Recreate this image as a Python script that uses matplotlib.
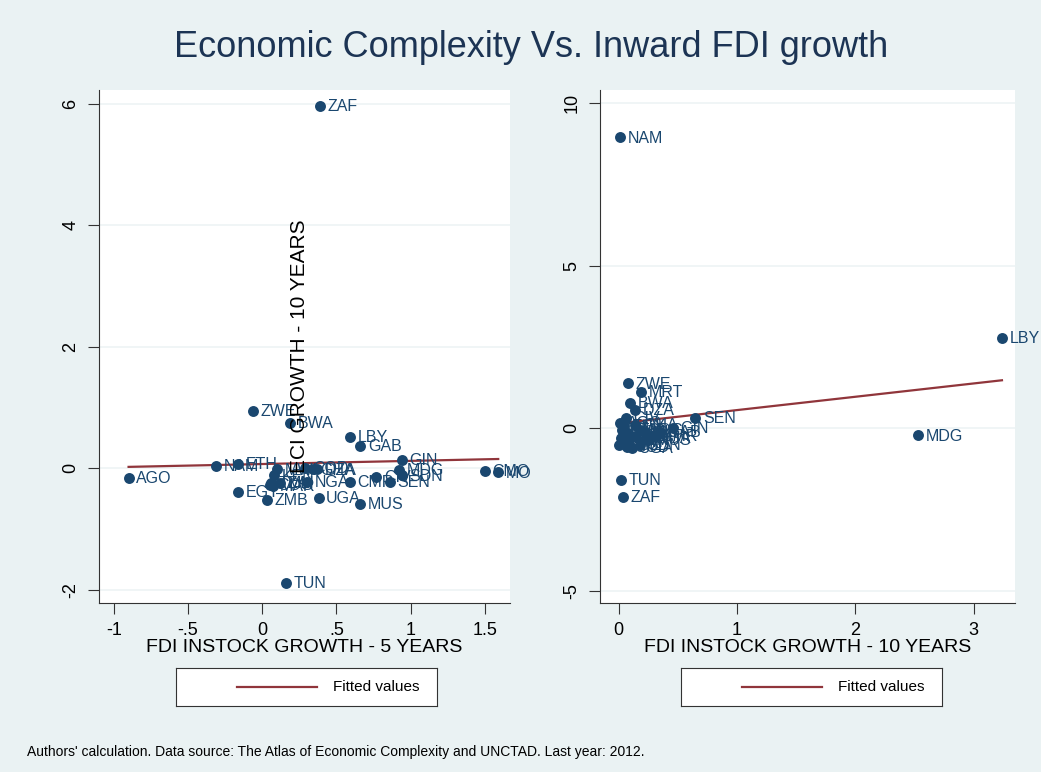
import numpy as np
import matplotlib.pyplot as plt

plt.rcParams['font.family'] = ['Liberation Sans', 'DejaVu Sans']

# left panel: FDI instock growth 5 years vs ECI growth
codes_l = ['AGO', 'NAM', 'ETH', 'EGY', 'ZWE', 'ZMB', 'MAR', 'MWI', 'KEN', 'TZA',
           'COG', 'MLI', 'BWA', 'TUN', 'NGA', 'COD', 'GHA', 'DZA', 'UGA', 'ZAF',
           'CMR', 'LBY', 'GAB', 'MUS', 'CIV', 'SEN', 'MDG', 'SDN', 'GIN', 'CMO', 'MO']
x_l = [-0.90, -0.31, -0.16, -0.16, -0.06, 0.03, 0.07, 0.10, 0.08, 0.06,
       0.05, 0.12, 0.19, 0.16, 0.30, 0.29, 0.34, 0.37, 0.38, 0.39,
       0.59, 0.59, 0.66, 0.66, 0.77, 0.86, 0.92, 0.94, 0.94, 1.50, 1.59]
y_l = [-0.16, 0.03, 0.07, -0.39, 0.94, -0.53, -0.29, -0.02, -0.12, -0.25,
       -0.28, -0.25, 0.74, -1.89, -0.23, 0.00, -0.02, -0.02, -0.49, 5.97,
       -0.23, 0.51, 0.36, -0.59, -0.15, -0.23, -0.03, -0.12, 0.13, -0.05, -0.07]

# right panel: FDI instock growth 10 years
codes_r = ['NAM', 'LBY', 'MDG', 'SEN', 'ZWE', 'MRT', 'BWA', 'DZA', 'GIN', 'TUN',
           'ZAF', 'UGA', 'MUS', 'CIV', 'GHA', 'AGO', 'ETH', 'EGY', 'ZMB', 'MAR',
           'MWI', 'KEN', 'TZA', 'COG', 'MLI', 'NGA', 'CMR', 'GAB', 'SDN', 'MOZ', 'COD']
x_r = [0.01, 3.24, 2.53, 0.65, 0.08, 0.19, 0.10, 0.14, 0.46, 0.02,
       0.04, 0.11, 0.25, 0.06, 0.14, 0.01, 0.03, 0.05, 0.08, 0.02,
       0.04, 0.09, 0.14, 0.18, 0.22, 0.26, 0.30, 0.35, 0.18, 0.00, 0.07]
y_r = [8.95, 2.77, -0.22, 0.31, 1.38, 1.11, 0.77, 0.55, 0.00, -1.60,
       -2.12, -0.60, -0.37, 0.31, 0.09, 0.15, -0.06, 0.06, -0.15, -0.31,
       -0.43, -0.37, -0.25, -0.06, -0.12, -0.31, -0.22, -0.12, -0.52, -0.52, -0.58]

# fitted values (intercept, slope)
fit_l = (0.067, 0.052)
fit_r = (0.146, 0.41)

bg = '#eaf2f3'
navy = '#1a476f'
maroon = '#90353b'

fig = plt.figure(figsize=(10.41, 7.72), dpi=100, facecolor=bg)
fig.text(0.51, 0.938, 'Economic Complexity Vs. Inward FDI growth',
         ha='center', va='center', fontsize=26, color='#1c3454')

ax1 = fig.add_axes([0.095, 0.219, 0.395, 0.664])
ax2 = fig.add_axes([0.576, 0.219, 0.399, 0.664])


def panel(ax, codes, x, y, fit, xlim, ylim, xticks, xtl, yticks, ytl, xtitle):
    ax.set_facecolor('white')
    ax.grid(axis='y', color='#edf3f5', linewidth=1.2)
    ax.set_axisbelow(True)
    ax.scatter(x, y, s=62, color=navy, zorder=3, linewidths=0)
    for c, xi, yi in zip(codes, x, y):
        ax.annotate(c, (xi, yi), xytext=(5.5, -0.5), textcoords='offset points',
                    va='center', ha='left', fontsize=11.5, color=navy, zorder=4)
    xs = np.array([min(x), max(x)])
    ax.plot(xs, fit[0] + fit[1] * xs, color=maroon, linewidth=1.6, zorder=2)
    ax.set_xlim(xlim)
    ax.set_ylim(ylim)
    ax.set_xticks(xticks)
    ax.set_xticklabels(xtl, fontsize=13)
    ax.set_yticks(yticks)
    ax.set_yticklabels(ytl, fontsize=13, rotation=90, va='center')
    for s in ['top', 'right']:
        ax.spines[s].set_visible(False)
    for s in ['left', 'bottom']:
        ax.spines[s].set_color('#333333')
    ax.tick_params(length=8, color='#333333', pad=6)
    ax.set_xlabel(xtitle, fontsize=14, labelpad=0)


panel(ax1, codes_l, x_l, y_l, fit_l, (-1.1, 1.67), (-2.22, 6.22),
      [-1, -0.5, 0, 0.5, 1, 1.5], ['-1', '-.5', '0', '.5', '1', '1.5'],
      [-2, 0, 2, 4, 6], ['-2', '0', '2', '4', '6'],
      'FDI INSTOCK GROWTH - 5 YEARS')
panel(ax2, codes_r, x_r, y_r, fit_r, (-0.16, 3.35), (-5.38, 10.4),
      [0, 1, 2, 3], ['0', '1', '2', '3'],
      [-5, 0, 5, 10], ['-5', '0', '5', '10'],
      'FDI INSTOCK GROWTH - 10 YEARS')

# misplaced y title inside the left panel
ax1.text(0.25, 2.0, 'ECI GROWTH - 10 YEARS', rotation=90, ha='center', va='center',
         fontsize=15, color='black', zorder=5)

# legend boxes
for x0 in [0.169, 0.654]:
    lax = fig.add_axes([x0, 0.086, 0.251, 0.049])
    lax.set_xlim(0, 1)
    lax.set_ylim(0, 1)
    lax.set_xticks([])
    lax.set_yticks([])
    lax.set_facecolor('white')
    for s in lax.spines.values():
        s.set_color('#333333')
    lax.plot([0.235, 0.54], [0.5, 0.5], color=maroon, linewidth=1.6)
    lax.text(0.6, 0.5, 'Fitted values', va='center', ha='left', fontsize=11)

fig.text(0.026, 0.026, "Authors' calculation. Data source: The Atlas of Economic Complexity and UNCTAD. Last year: 2012.",
         fontsize=10, va='center')

fig.savefig('out.png', dpi=100, facecolor=bg)
